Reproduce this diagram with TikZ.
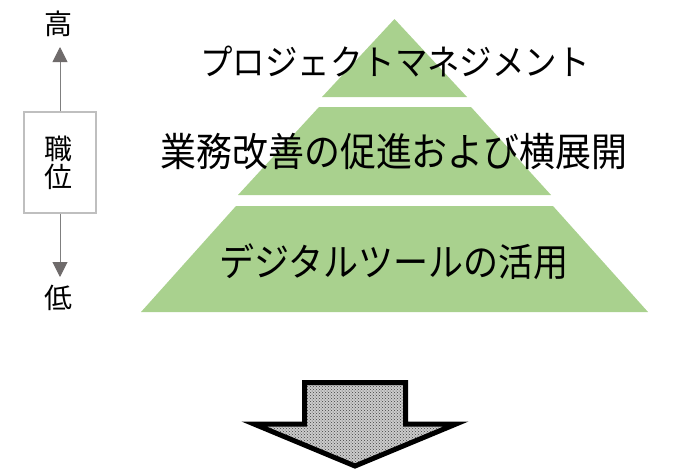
\documentclass[tikz,border=0pt]{standalone}
\usepackage{graphicx}
\usepackage{fontspec}
\setmainfont{Noto Sans CJK JP}
\usetikzlibrary{arrows.meta,patterns}
\definecolor{pyrgreen}{HTML}{A9D18E}
\definecolor{boxgray}{HTML}{BFBFBF}
\definecolor{arrgray}{HTML}{7F7F7F}
\definecolor{tipgray}{HTML}{6F6B6B}
\tikzset{
  piece/.style={fill=pyrgreen},
  lvl/.style={anchor=base,inner sep=0pt,text=black},
  side/.style={inner sep=0pt,text=black,font=\fontsize{28}{28}\selectfont},
  rankbox/.style={draw=boxgray,line width=1.5pt,fill=white,minimum width=72pt,minimum height=101pt,inner sep=0pt},
  rankarrow/.style={draw=arrgray,line width=1pt,-{Triangle[width=15pt,length=15pt,fill=tipgray,color=tipgray]}},
  blockarrow/.style={draw=black,line width=5pt,line join=miter,preaction={fill=gray!40},pattern=crosshatch dots,pattern color=gray!50!black}
}
\begin{document}
\begin{tikzpicture}[x=1pt,y=-1pt]
\useasboundingbox (0,0) rectangle (699,469);
% pyramid
\fill[piece] (394.5,19) -- (467,97) -- (322,97) -- cycle;
\fill[piece] (319,107) -- (471,107) -- (551,195) -- (238,195) -- cycle;
\fill[piece] (236,206) -- (553,206) -- (648,312) -- (141,312) -- cycle;
\node[lvl,font=\fontsize{35.5}{35.5}\selectfont] (l1) at (395,75.5) {\scalebox{0.915}[1]{プロジェクトマネジメント}};
\node[lvl,font=\fontsize{39.5}{39.5}\selectfont] (l2) at (394,166) {\scalebox{0.91}[1]{業務改善の促進および横展開}};
\node[lvl,font=\fontsize{38.5}{38.5}\selectfont] (l3) at (394,276.5) {\scalebox{0.91}[1]{デジタルツールの活用}};
% rank scale
\node[rankbox] (rank) at (60,162.5) {};
\node[side] (shoku) at (58.5,149) {職};
\node[side] (i) at (58.5,177) {位};
\node[side] (hi) at (58.5,24) {高};
\node[side] (lo) at (58.5,298) {低};
\coordinate (hitip) at (60,47);
\coordinate (lotip) at (60,277);
\draw[rankarrow] (rank.north) -- (hitip);
\draw[rankarrow] (rank.south) -- (lotip);
% block arrow
\draw[blockarrow] (304.5,382.5) -- (405.5,382.5) -- (405.5,424) -- (456,424) -- (355,466) -- (254,424) -- (304.5,424) -- cycle;
\end{tikzpicture}
\end{document}
